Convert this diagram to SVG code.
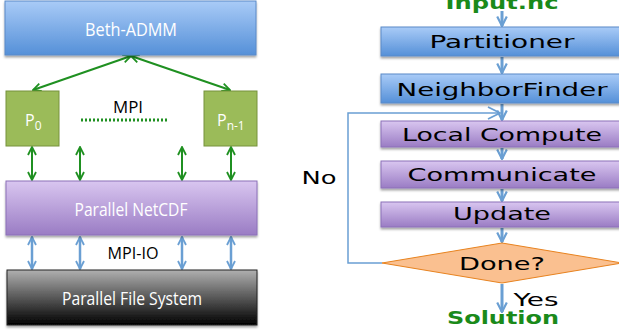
<svg xmlns="http://www.w3.org/2000/svg" width="619" height="332" viewBox="0 0 619 332">
<defs>
<linearGradient id="gBlue" x1="0" y1="0" x2="0" y2="1"><stop offset="0" stop-color="#a9cbf7"/><stop offset="1" stop-color="#5590d8"/></linearGradient>
<linearGradient id="gPurple" x1="0" y1="0" x2="0" y2="1"><stop offset="0" stop-color="#d9c6f0"/><stop offset="1" stop-color="#9a7cc4"/></linearGradient>
<linearGradient id="gGray" x1="0" y1="0" x2="0" y2="1"><stop offset="0" stop-color="#b0b0b0"/><stop offset="1" stop-color="#000000"/></linearGradient>
<filter id="sh" x="-10%" y="-20%" width="120%" height="150%"><feDropShadow dx="0" dy="2" stdDeviation="1.2" flood-color="#000" flood-opacity="0.35"/></filter>
<marker id="mg" viewBox="0 0 10 10" refX="9" refY="5" markerWidth="5" markerHeight="5" orient="auto-start-reverse" markerUnits="strokeWidth"><path d="M1,1 L9,5 L1,9" fill="none" stroke="#1f9021" stroke-width="1.8"/></marker>
<marker id="mb" viewBox="0 0 10 10" refX="9" refY="5" markerWidth="4" markerHeight="4" orient="auto-start-reverse" markerUnits="strokeWidth"><path d="M1,1 L9,5 L1,9" fill="none" stroke="#6a9fd3" stroke-width="1.8"/></marker>
<marker id="mr" viewBox="0 0 10 10" refX="9" refY="5" markerWidth="4" markerHeight="4" orient="auto" markerUnits="strokeWidth"><path d="M1,1 L9,5 L1,9" fill="none" stroke="#6a9fd3" stroke-width="1.8"/></marker>
<marker id="ml" viewBox="0 0 10 10" refX="9" refY="5" markerWidth="10" markerHeight="10" orient="auto" markerUnits="strokeWidth"><path d="M1,1 L9,5 L1,9" fill="none" stroke="#6a9fd3" stroke-width="1.2"/></marker>
<style>
.lt{font-family:"Open Sans","Liberation Sans",sans-serif;fill:#fff;text-anchor:middle}
.lk{font-family:"Open Sans","Liberation Sans",sans-serif;fill:#000;text-anchor:middle}
.rt{font-family:"DejaVu Sans","Liberation Sans",sans-serif;font-size:18px;fill:#000;text-anchor:middle}
.gt{font-family:"DejaVu Sans","Liberation Sans",sans-serif;font-size:18px;font-weight:bold;fill:#1a8a1a;text-anchor:middle}
.bb{fill:url(#gBlue);stroke:#5a8ac8;stroke-width:1;filter:url(#sh)}
.pb{fill:url(#gPurple);stroke:#8c70b8;stroke-width:1;filter:url(#sh)}
.gn{stroke:#1f9021;stroke-width:2;fill:none}
.bl{stroke:#6a9fd3;stroke-width:2.5;fill:none}
.ra{stroke:#6a9fd3;stroke-width:3;fill:none}
</style>
</defs>
<rect width="619" height="332" fill="#fff"/>

<g id="connectors">
<line class="gn" x1="131" y1="56" x2="33" y2="90" marker-start="url(#mg)" marker-end="url(#mg)"/>
<line class="gn" x1="131" y1="56" x2="230" y2="90" marker-start="url(#mg)" marker-end="url(#mg)"/>
<line x1="81" y1="120" x2="167" y2="120" stroke="#1f9021" stroke-width="3" stroke-dasharray="2,2"/>
<line class="gn" x1="32" y1="147" x2="32" y2="180" marker-start="url(#mg)" marker-end="url(#mg)"/>
<line class="gn" x1="80" y1="147" x2="80" y2="180" marker-start="url(#mg)" marker-end="url(#mg)"/>
<line class="gn" x1="182" y1="147" x2="182" y2="180" marker-start="url(#mg)" marker-end="url(#mg)"/>
<line class="gn" x1="231" y1="147" x2="231" y2="180" marker-start="url(#mg)" marker-end="url(#mg)"/>
<line class="bl" x1="32" y1="237" x2="32" y2="269" marker-start="url(#mb)" marker-end="url(#mb)"/>
<line class="bl" x1="80" y1="237" x2="80" y2="269" marker-start="url(#mb)" marker-end="url(#mb)"/>
<line class="bl" x1="182" y1="237" x2="182" y2="269" marker-start="url(#mb)" marker-end="url(#mb)"/>
<line class="bl" x1="231" y1="237" x2="231" y2="269" marker-start="url(#mb)" marker-end="url(#mb)"/>

<line class="ra" x1="502" y1="11" x2="502" y2="26" marker-end="url(#mr)"/>
<line class="ra" x1="502" y1="57" x2="502" y2="73" marker-end="url(#mr)"/>
<line class="ra" x1="502" y1="104" x2="502" y2="120" marker-end="url(#mr)"/>
<line class="ra" x1="502" y1="148" x2="502" y2="159" marker-end="url(#mr)"/>
<line class="ra" x1="502" y1="189" x2="502" y2="201" marker-end="url(#mr)"/>
<line class="ra" x1="502" y1="228" x2="502" y2="242" marker-end="url(#mr)"/>
<line class="ra" x1="502" y1="284" x2="502" y2="312" marker-end="url(#mr)"/>
<polyline points="382,263 348,263 348,113 500,113" fill="none" stroke="#6a9fd3" stroke-width="1.5" marker-end="url(#ml)"/>
</g>

<g id="beth-admm"><rect class="bb" x="5" y="1" width="251" height="54"/><text class="lt" x="131" y="36" font-size="19" textLength="92" lengthAdjust="spacingAndGlyphs">Beth-ADMM</text></g>
<g id="p0"><rect x="6" y="91" width="53" height="55" fill="#9bbb59" stroke="#76923c" stroke-width="1"/><text class="lt" x="25" y="126" font-size="16" style="text-anchor:start">P<tspan font-size="12" dy="4">0</tspan></text></g>
<g id="pn-1"><rect x="204" y="91" width="53" height="55" fill="#9bbb59" stroke="#76923c" stroke-width="1"/><text class="lt" x="217" y="126" font-size="16" style="text-anchor:start">P<tspan font-size="12" dy="4">n-1</tspan></text></g>
<g id="mpi-label"><text class="lk" x="128" y="113" font-size="17" textLength="30" lengthAdjust="spacingAndGlyphs">MPI</text></g>
<g id="parallel-netcdf"><rect class="pb" x="6" y="181" width="251" height="54"/><text class="lt" x="131" y="216" font-size="19" textLength="113" lengthAdjust="spacingAndGlyphs">Parallel NetCDF</text></g>
<g id="mpi-io-label"><text class="lk" x="133" y="259" font-size="17" textLength="51" lengthAdjust="spacingAndGlyphs">MPI-IO</text></g>
<g id="parallel-fs"><rect x="7" y="270" width="250" height="55" fill="url(#gGray)" stroke="#222" stroke-width="1" filter="url(#sh)"/><text class="lt" x="132" y="305" font-size="19" textLength="140" lengthAdjust="spacingAndGlyphs">Parallel File System</text></g>

<g id="input"><text class="gt" x="502" y="9" textLength="113" lengthAdjust="spacingAndGlyphs">Input.nc</text></g>
<g id="partitioner"><rect class="bb" x="381" y="27" width="242" height="29"/><text class="rt" x="502" y="48" textLength="145" lengthAdjust="spacingAndGlyphs">Partitioner</text></g>
<g id="neighborfinder"><rect class="bb" x="381" y="74" width="242" height="29"/><text class="rt" x="502" y="96" textLength="211" lengthAdjust="spacingAndGlyphs">NeighborFinder</text></g>
<g id="local-compute"><rect class="pb" x="381" y="121" width="242" height="26"/><text class="rt" x="502" y="141" textLength="200" lengthAdjust="spacingAndGlyphs">Local Compute</text></g>
<g id="communicate"><rect class="pb" x="381" y="161" width="242" height="27"/><text class="rt" x="502" y="181" textLength="189" lengthAdjust="spacingAndGlyphs">Communicate</text></g>
<g id="update"><rect class="pb" x="381" y="202" width="242" height="25"/><text class="rt" x="502" y="220" textLength="98" lengthAdjust="spacingAndGlyphs">Update</text></g>
<g id="done"><polygon points="382,263 502,243 622,263 502,283" fill="#fac090" stroke="#e8821e" stroke-width="1"/><text class="rt" x="502" y="270" textLength="86" lengthAdjust="spacingAndGlyphs">Done?</text></g>
<g id="no-label"><text class="rt" x="319" y="184" textLength="35" lengthAdjust="spacingAndGlyphs">No</text></g>
<g id="yes-label"><text class="rt" x="536" y="306" textLength="45" lengthAdjust="spacingAndGlyphs">Yes</text></g>
<g id="solution"><text class="gt" x="503" y="324" textLength="112" lengthAdjust="spacingAndGlyphs">Solution</text></g>
</svg>
